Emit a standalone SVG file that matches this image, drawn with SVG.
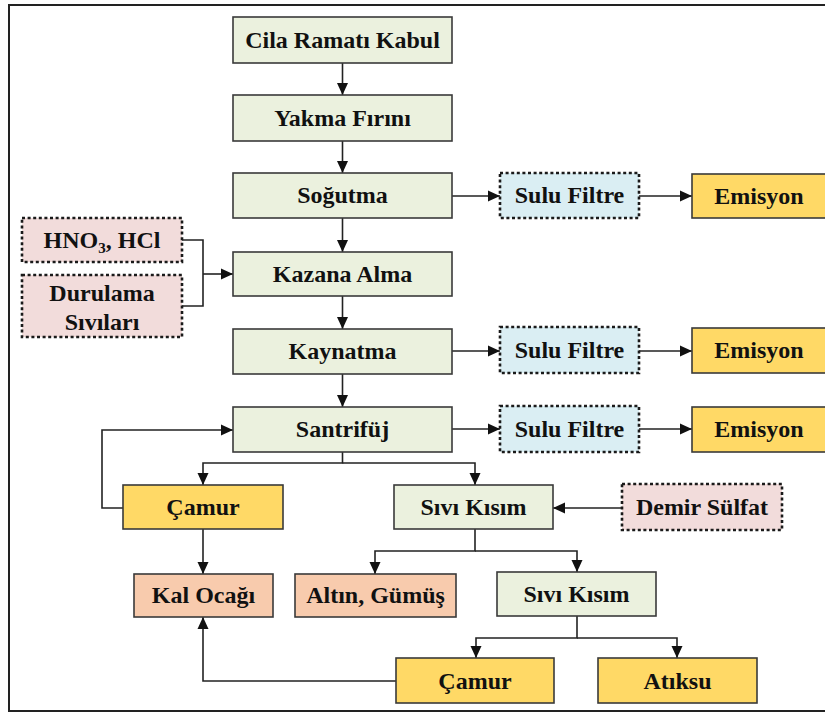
<svg xmlns="http://www.w3.org/2000/svg" width="825" height="713" viewBox="0 0 825 713">
<style>
.b{stroke:#3a3a3a;stroke-width:1.6}
.d{stroke:#1a1a1a;stroke-width:2.6;stroke-dasharray:3 2.6}
.g{fill:#EBF1DE}
.bl{fill:#DAEEF3}
.pk{fill:#F2DCDB}
.y{fill:#FFD966}
.o{fill:#F8CBAD}
text{font-family:'Liberation Serif','Times New Roman',Tinos,'DejaVu Serif',serif;font-weight:700;font-size:24px;fill:#111;text-anchor:middle}
.c path,.c polyline{fill:none;stroke:#222;stroke-width:1.6}
</style>
<defs>
<marker id="a" markerUnits="userSpaceOnUse" markerWidth="14" markerHeight="14" viewBox="0 0 14 14" refX="13" refY="7" orient="auto">
<path d="M1,1.5 L13,7 L1,12.5 Z" fill="#111"/>
</marker>
</defs>
<rect x="9" y="5" width="840" height="706" fill="#fff" stroke="#222" stroke-width="2"/>
<g class="c">
<path d="M342.5,63 V95" marker-end="url(#a)"/>
<path d="M342.5,141 V173" marker-end="url(#a)"/>
<path d="M342.5,218 V252" marker-end="url(#a)"/>
<path d="M342.5,296 V329" marker-end="url(#a)"/>
<path d="M342.5,374 V407" marker-end="url(#a)"/>
<path d="M452,196 H500" marker-end="url(#a)"/>
<path d="M639,196 H692" marker-end="url(#a)"/>
<path d="M452,351 H500" marker-end="url(#a)"/>
<path d="M639,351 H692" marker-end="url(#a)"/>
<path d="M452,429 H500" marker-end="url(#a)"/>
<path d="M639,429 H692" marker-end="url(#a)"/>
<polyline points="182,240 203,240 203,306 182,306"/>
<path d="M203,274 H233" marker-end="url(#a)"/>
<path d="M123,508 H102 V430 H233" marker-end="url(#a)"/>
<path d="M342.5,452 V463 H203 V485" marker-end="url(#a)"/>
<path d="M342.5,463 H475 V485" marker-end="url(#a)"/>
<path d="M203,529 V574" marker-end="url(#a)"/>
<path d="M622,508 H553" marker-end="url(#a)"/>
<path d="M475,529 V551 H375 V574" marker-end="url(#a)"/>
<path d="M475,551 H577 V572" marker-end="url(#a)"/>
<path d="M577,616 V638 H476 V658" marker-end="url(#a)"/>
<path d="M577,638 H677 V658" marker-end="url(#a)"/>
<path d="M396,681 H203 V617" marker-end="url(#a)"/>
</g>
<g id="cila"><rect class="b g" x="233" y="17" width="219" height="46"/><text x="342.5" y="48">Cila Ramatı Kabul</text></g>
<g id="yakma"><rect class="b g" x="233" y="95" width="219" height="46"/><text x="342.5" y="126">Yakma Fırını</text></g>
<g id="sogutma"><rect class="b g" x="233" y="173" width="219" height="45"/><text x="342.5" y="203">Soğutma</text></g>
<g id="kazana"><rect class="b g" x="233" y="252" width="219" height="44"/><text x="342.5" y="282">Kazana Alma</text></g>
<g id="kaynatma"><rect class="b g" x="233" y="329" width="219" height="45"/><text x="342.5" y="359">Kaynatma</text></g>
<g id="santrifuj"><rect class="b g" x="233" y="407" width="219" height="45"/><text x="342.5" y="437">Santrifüj</text></g>
<g id="sulu1"><rect class="d bl" x="500" y="173" width="139" height="45"/><text x="569.5" y="203">Sulu Filtre</text></g>
<g id="emisyon1"><rect class="b y" x="692" y="174" width="160" height="44"/><text x="759" y="204">Emisyon</text></g>
<g id="sulu2"><rect class="d bl" x="500" y="327" width="139" height="46"/><text x="569.5" y="358">Sulu Filtre</text></g>
<g id="emisyon2"><rect class="b y" x="692" y="328" width="160" height="45"/><text x="759" y="358">Emisyon</text></g>
<g id="sulu3"><rect class="d bl" x="500" y="406" width="139" height="46"/><text x="569.5" y="437">Sulu Filtre</text></g>
<g id="emisyon3"><rect class="b y" x="692" y="407" width="160" height="45"/><text x="759" y="437">Emisyon</text></g>
<g id="hno3"><rect class="d pk" x="22" y="218" width="160" height="44"/><text x="102" y="248">HNO<tspan font-size="15" dy="5">3</tspan><tspan dy="-5">, HCl</tspan></text></g>
<g id="durulama"><rect class="d pk" x="22" y="275" width="160" height="62"/><text x="102" y="301">Durulama</text><text x="102" y="330">Sıvıları</text></g>
<g id="camur1"><rect class="b y" x="123" y="485" width="160" height="44"/><text x="203" y="515">Çamur</text></g>
<g id="sivi1"><rect class="b g" x="394" y="485" width="159" height="44"/><text x="473.5" y="515">Sıvı Kısım</text></g>
<g id="demir"><rect class="d pk" x="622" y="484" width="160" height="46"/><text x="702" y="515">Demir Sülfat</text></g>
<g id="kal"><rect class="b o" x="134" y="574" width="139" height="43"/><text x="203.5" y="603">Kal Ocağı</text></g>
<g id="altin"><rect class="b o" x="295" y="574" width="161" height="43"/><text x="375.5" y="603">Altın, Gümüş</text></g>
<g id="sivi2"><rect class="b g" x="497" y="572" width="159" height="44"/><text x="576.5" y="602">Sıvı Kısım</text></g>
<g id="camur2"><rect class="b y" x="396" y="658" width="158" height="45"/><text x="475" y="689">Çamur</text></g>
<g id="atiksu"><rect class="b y" x="598" y="658" width="159" height="45"/><text x="677.5" y="689">Atıksu</text></g>
</svg>
